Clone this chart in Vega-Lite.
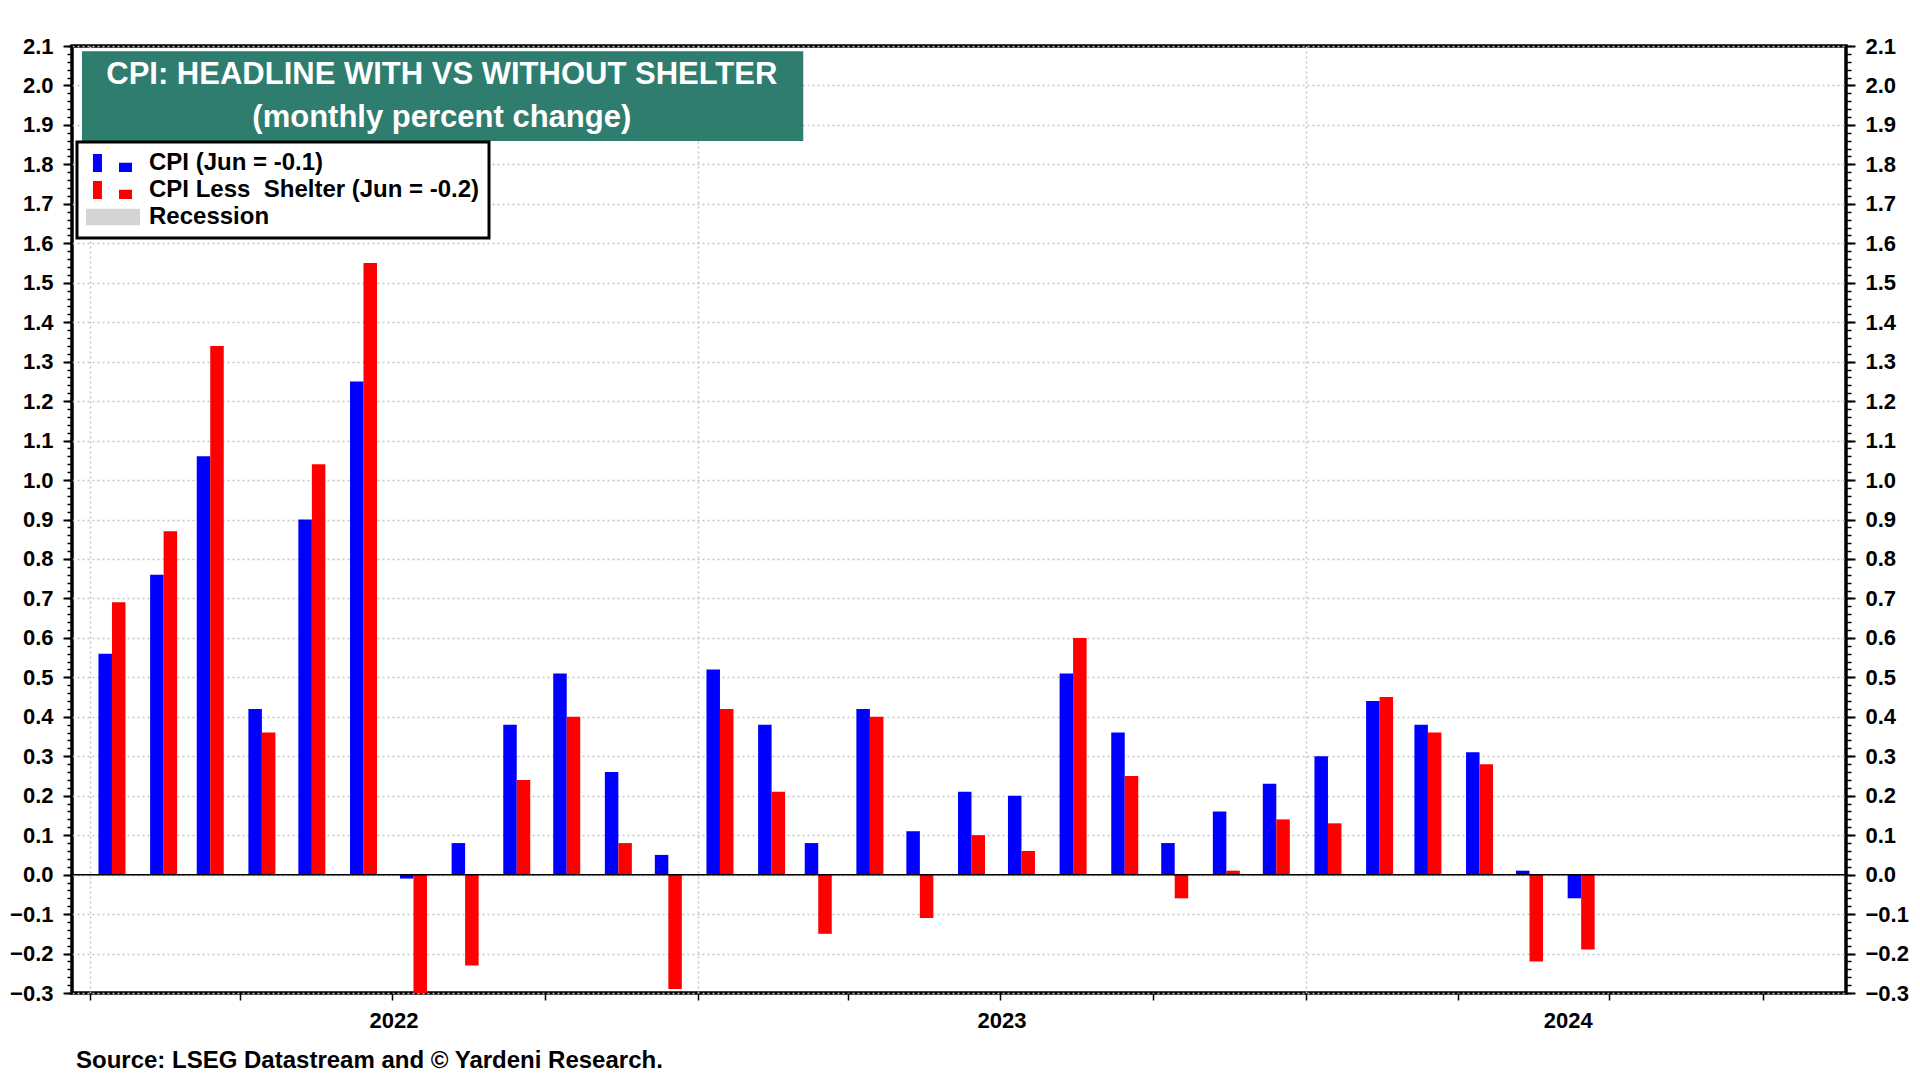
{
  "$schema": "https://vega.github.io/schema/vega-lite/v6.json",
  "autosize": "none",
  "width": 1774,
  "height": 947,
  "padding": {"left": 72, "top": 46, "right": 74, "bottom": 87},
  "background": "white",
  "title": {
    "text": "Source: LSEG Datastream and © Yardeni Research.",
    "orient": "bottom",
    "anchor": "start",
    "frame": "group",
    "font": "Liberation Sans",
    "fontSize": 24,
    "fontWeight": "bold",
    "color": "black",
    "offset": 18,
    "dx": 4
  },
  "data": {
    "values": [
      {"date": "2022-01-14", "cpi": 0.56, "lessShelter": 0.69},
      {"date": "2022-02-14", "cpi": 0.76, "lessShelter": 0.87},
      {"date": "2022-03-14", "cpi": 1.06, "lessShelter": 1.34},
      {"date": "2022-04-14", "cpi": 0.42, "lessShelter": 0.36},
      {"date": "2022-05-14", "cpi": 0.90, "lessShelter": 1.04},
      {"date": "2022-06-14", "cpi": 1.25, "lessShelter": 1.55},
      {"date": "2022-07-14", "cpi": -0.01, "lessShelter": -0.30},
      {"date": "2022-08-14", "cpi": 0.08, "lessShelter": -0.23},
      {"date": "2022-09-14", "cpi": 0.38, "lessShelter": 0.24},
      {"date": "2022-10-14", "cpi": 0.51, "lessShelter": 0.40},
      {"date": "2022-11-14", "cpi": 0.26, "lessShelter": 0.08},
      {"date": "2022-12-14", "cpi": 0.05, "lessShelter": -0.29},
      {"date": "2023-01-14", "cpi": 0.52, "lessShelter": 0.42},
      {"date": "2023-02-14", "cpi": 0.38, "lessShelter": 0.21},
      {"date": "2023-03-14", "cpi": 0.08, "lessShelter": -0.15},
      {"date": "2023-04-14", "cpi": 0.42, "lessShelter": 0.40},
      {"date": "2023-05-14", "cpi": 0.11, "lessShelter": -0.11},
      {"date": "2023-06-14", "cpi": 0.21, "lessShelter": 0.10},
      {"date": "2023-07-14", "cpi": 0.20, "lessShelter": 0.06},
      {"date": "2023-08-14", "cpi": 0.51, "lessShelter": 0.60},
      {"date": "2023-09-14", "cpi": 0.36, "lessShelter": 0.25},
      {"date": "2023-10-14", "cpi": 0.08, "lessShelter": -0.06},
      {"date": "2023-11-14", "cpi": 0.16, "lessShelter": 0.01},
      {"date": "2023-12-14", "cpi": 0.23, "lessShelter": 0.14},
      {"date": "2024-01-14", "cpi": 0.30, "lessShelter": 0.13},
      {"date": "2024-02-14", "cpi": 0.44, "lessShelter": 0.45},
      {"date": "2024-03-14", "cpi": 0.38, "lessShelter": 0.36},
      {"date": "2024-04-14", "cpi": 0.31, "lessShelter": 0.28},
      {"date": "2024-05-14", "cpi": 0.01, "lessShelter": -0.22},
      {"date": "2024-06-14", "cpi": -0.06, "lessShelter": -0.19}
    ]
  },
  "resolve": {"axis": {"x": "independent", "y": "independent"}},
  "layer": [
    {
      "data": {"values": [{}]},
      "mark": {"type": "rect", "fill": "#2E7D6E"},
      "encoding": {
        "x": {
          "datum": {"year": 2021, "month": 12, "date": 27, "utc": true},
          "type": "temporal",
          "scale": {"type": "utc", "domain": [{"year": 2021, "month": 12, "date": 24, "utc": true}, {"year": 2024, "month": 11, "date": 17, "utc": true}]},
          "axis": {
            "orient": "bottom", "title": null, "labels": false, "ticks": false, "domain": false,
            "grid": true, "gridColor": "#c4c4c4", "gridDash": [2, 3], "gridWidth": 1.5,
            "values": [
              {"year": 2022, "month": 1, "date": 1, "utc": true},
              {"year": 2023, "month": 1, "date": 1, "utc": true},
              {"year": 2024, "month": 1, "date": 1, "utc": true}
            ]
          }
        },
        "x2": {"datum": {"year": 2023, "month": 3, "date": 5, "utc": true}},
        "y": {
          "datum": 2.087,
          "type": "quantitative",
          "scale": {"domain": [-0.3, 2.1], "nice": false, "zero": false},
          "axis": {
            "orient": "right", "title": null, "labels": false, "grid": false, "domain": false,
            "ticks": true, "tickSize": 5, "tickWidth": 1.5, "tickColor": "black", "tickCount": 120
          }
        },
        "y2": {"datum": 1.859}
      }
    },
    {
      "data": {"values": [{}]},
      "mark": {
        "type": "text",
        "font": "Liberation Sans",
        "fontSize": 31,
        "fontWeight": "bold",
        "fill": "white",
        "align": "center",
        "baseline": "middle",
        "lineHeight": 43
      },
      "encoding": {
        "x": {
          "datum": {"year": 2022, "month": 7, "date": 31, "utc": true},
          "type": "temporal",
          "scale": {"type": "utc", "domain": [{"year": 2021, "month": 12, "date": 24, "utc": true}, {"year": 2024, "month": 11, "date": 17, "utc": true}]},
          "axis": null
        },
        "y": {
          "datum": 2.0265,
          "type": "quantitative",
          "scale": {"domain": [-0.3, 2.1], "nice": false, "zero": false},
          "axis": {
            "orient": "left", "title": null, "labels": false, "grid": false, "domain": false,
            "ticks": true, "tickSize": 5, "tickWidth": 1.5, "tickColor": "black", "tickCount": 120
          }
        },
        "text": {"value": ["CPI: HEADLINE WITH VS WITHOUT SHELTER", "(monthly percent change)"]}
      }
    },
    {
      "mark": {"type": "bar", "width": 13.5, "xOffset": -6.75, "clip": true},
      "encoding": {
        "x": {
          "field": "date",
          "type": "temporal",
          "scale": {"type": "utc", "domain": [{"year": 2021, "month": 12, "date": 24, "utc": true}, {"year": 2024, "month": 11, "date": 17, "utc": true}]},
          "axis": {
            "orient": "bottom", "title": null, "format": "%Y", "ticks": false, "grid": false, "domain": false,
            "labelFont": "Liberation Sans", "labelFontSize": 22, "labelFontWeight": "bold", "labelColor": "black",
            "labelPadding": 17, "labelFlush": false, "labelOverlap": false,
            "values": [
              {"year": 2022, "month": 7, "date": 2, "utc": true},
              {"year": 2023, "month": 7, "date": 2, "utc": true},
              {"year": 2024, "month": 6, "date": 6, "utc": true}
            ]
          }
        },
        "y": {
          "field": "cpi",
          "type": "quantitative",
          "scale": {"domain": [-0.3, 2.1], "nice": false, "zero": false},
          "axis": {
            "orient": "left", "title": null, "format": ".1f", "domain": false,
            "grid": true, "gridColor": "#c4c4c4", "gridDash": [2, 3], "gridWidth": 1.5,
            "ticks": true, "tickSize": 9, "tickWidth": 2, "tickColor": "black",
            "labelFont": "Liberation Sans", "labelFontSize": 22, "labelFontWeight": "bold", "labelColor": "black",
            "labelPadding": 10, "labelFlush": false, "labelOverlap": false,
            "values": [-0.3, -0.2, -0.1, 0, 0.1, 0.2, 0.3, 0.4, 0.5, 0.6, 0.7, 0.8, 0.9, 1.0, 1.1, 1.2, 1.3, 1.4, 1.5, 1.6, 1.7, 1.8, 1.9, 2.0, 2.1]
          }
        },
        "color": {
          "datum": "CPI (Jun = -0.1)",
          "type": "nominal",
          "scale": {
            "domain": ["CPI (Jun = -0.1)", "CPI Less\u00a0 Shelter (Jun = -0.2)", "Recession"],
            "range": ["#0000FF", "#FF0000", "#D3D3D3"]
          },
          "legend": {
            "title": null,
            "orient": "none",
            "legendX": 5,
            "legendY": 96,
            "fillColor": "white",
            "strokeColor": "black",
            "padding": 9,
            "rowPadding": 3,
            "symbolType": "M-0.42,-0.75H0.33V0.75H-0.42Z M1.75,-0.02H2.833V0.75H1.75Z",
            "symbolSize": 576,
            "symbolStrokeWidth": 0,
            "symbolOpacity": 1,
            "labelFont": "Liberation Sans",
            "labelFontSize": 24,
            "labelFontWeight": "bold",
            "labelColor": "black",
            "labelOffset": 39,
            "labelLimit": 800,
            "encode": {
              "legend": {"update": {"strokeWidth": {"value": 3}}},
              "symbols": {
                "update": {
                  "shape": {"signal": "datum.value === 'Recession' ? 'M-1,-0.69H3.5V0.69H-1Z' : 'M-0.42,-0.75H0.33V0.75H-0.42Z M1.75,-0.02H2.833V0.75H1.75Z'"}
                }
              }
            }
          }
        }
      }
    },
    {
      "mark": {"type": "bar", "width": 13.5, "xOffset": 6.75, "clip": true},
      "encoding": {
        "x": {
          "field": "date",
          "type": "temporal",
          "scale": {"type": "utc", "domain": [{"year": 2021, "month": 12, "date": 24, "utc": true}, {"year": 2024, "month": 11, "date": 17, "utc": true}]},
          "axis": {
            "orient": "bottom", "title": null, "labels": false, "grid": false, "domain": false,
            "ticks": true, "tickSize": 7, "tickWidth": 1.5, "tickColor": "black",
            "values": [
              {"year": 2022, "month": 1, "date": 1, "utc": true},
              {"year": 2022, "month": 4, "date": 1, "utc": true},
              {"year": 2022, "month": 7, "date": 1, "utc": true},
              {"year": 2022, "month": 10, "date": 1, "utc": true},
              {"year": 2023, "month": 1, "date": 1, "utc": true},
              {"year": 2023, "month": 4, "date": 1, "utc": true},
              {"year": 2023, "month": 7, "date": 1, "utc": true},
              {"year": 2023, "month": 10, "date": 1, "utc": true},
              {"year": 2024, "month": 1, "date": 1, "utc": true},
              {"year": 2024, "month": 4, "date": 1, "utc": true},
              {"year": 2024, "month": 7, "date": 1, "utc": true},
              {"year": 2024, "month": 10, "date": 1, "utc": true}
            ]
          }
        },
        "y": {
          "field": "lessShelter",
          "type": "quantitative",
          "scale": {"domain": [-0.3, 2.1], "nice": false, "zero": false},
          "axis": {
            "orient": "right", "title": null, "format": ".1f", "domain": false, "grid": false,
            "ticks": true, "tickSize": 9, "tickWidth": 2, "tickColor": "black",
            "labelFont": "Liberation Sans", "labelFontSize": 22, "labelFontWeight": "bold", "labelColor": "black",
            "labelPadding": 10, "labelFlush": false, "labelOverlap": false,
            "values": [-0.3, -0.2, -0.1, 0, 0.1, 0.2, 0.3, 0.4, 0.5, 0.6, 0.7, 0.8, 0.9, 1.0, 1.1, 1.2, 1.3, 1.4, 1.5, 1.6, 1.7, 1.8, 1.9, 2.0, 2.1]
          }
        },
        "color": {"datum": "CPI Less\u00a0 Shelter (Jun = -0.2)", "type": "nominal"}
      }
    },
    {
      "data": {"values": [{}]},
      "mark": {"type": "rule", "color": "black", "strokeWidth": 1.5},
      "encoding": {
        "y": {
          "datum": 0,
          "type": "quantitative",
          "scale": {"domain": [-0.3, 2.1], "nice": false, "zero": false},
          "axis": null
        }
      }
    }
  ],
  "config": {
    "font": "Liberation Sans",
    "view": {"stroke": "black", "strokeWidth": 3.5}
  }
}
